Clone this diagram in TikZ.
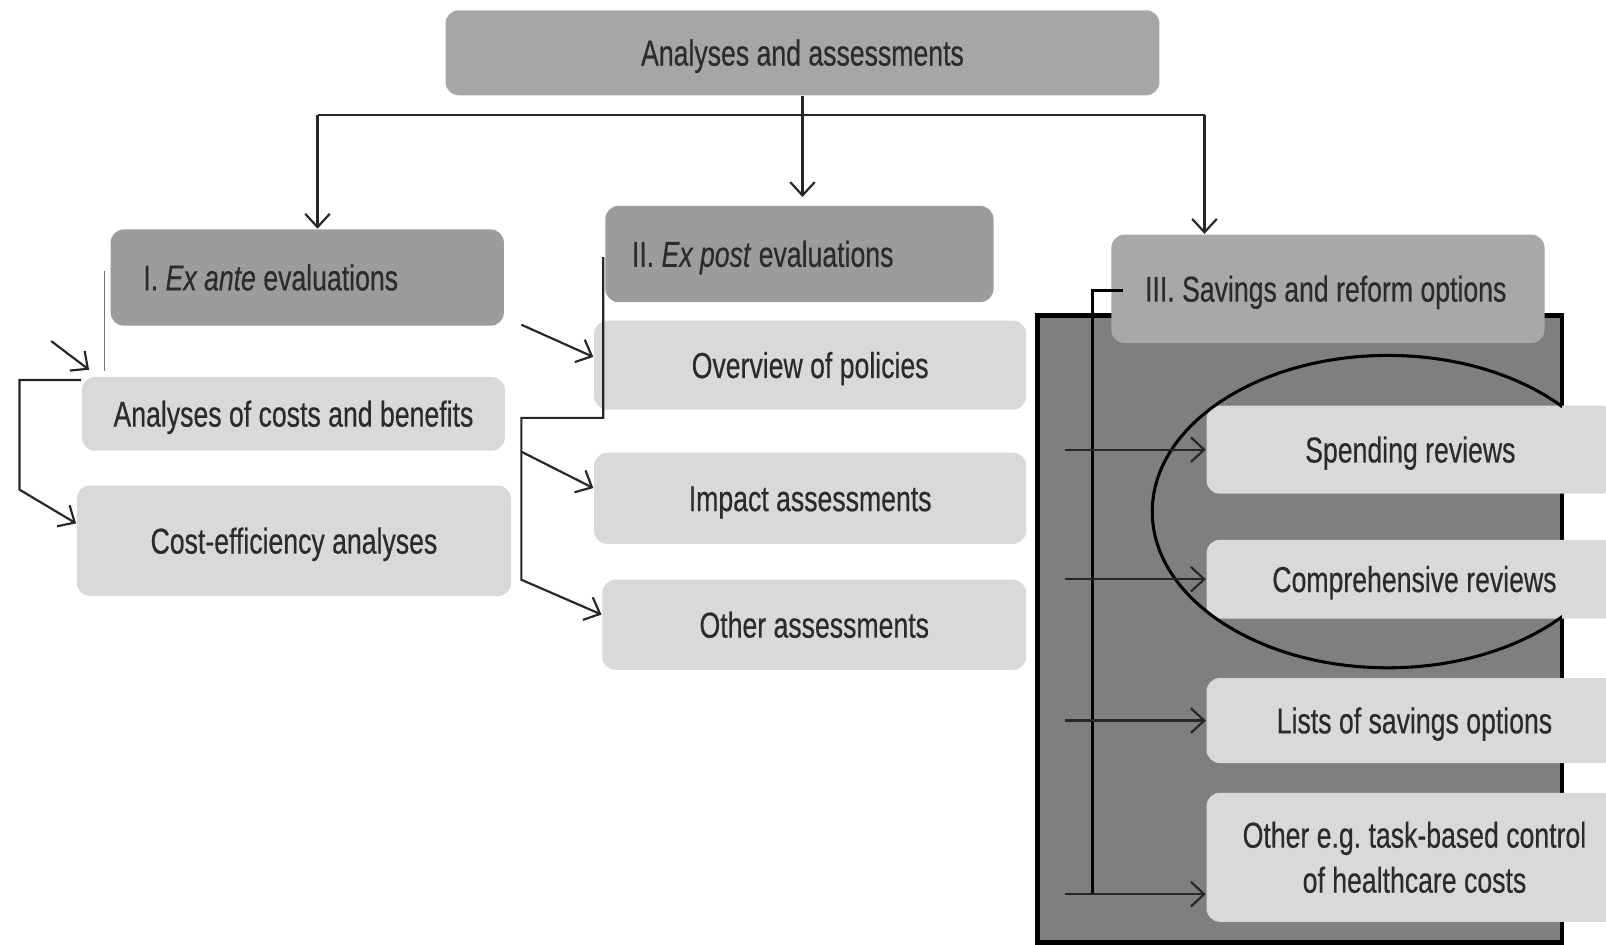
\documentclass[tikz,border=0pt]{standalone}
\usepackage{fontspec}
\setmainfont{Liberation Sans}[FakeStretch=0.74, FakeBold=0.4]
\usepackage{xcolor}
\usetikzlibrary{arrows.meta}

\definecolor{topgray}{HTML}{A6A6A6}
\definecolor{evalgray}{HTML}{9C9C9C}
\definecolor{optgray}{HTML}{A8A8A8}
\definecolor{itemgray}{HTML}{D9D9D9}
\definecolor{panelgray}{HTML}{7F7F7F}
\definecolor{inkgray}{HTML}{2B2B2B}

\begin{document}
\begin{tikzpicture}[x=0.1mm,y=-0.1mm,
    box/.style={rounded corners=1.3mm, text=inkgray, inner sep=0pt,
      font=\fontsize{10}{12.5}\selectfont},
    oneline/.style={text height=2.9mm, text depth=0.4mm},
    headbox/.style={box, oneline, align=flush left, minimum height=9.4mm,
      execute at begin node={\hspace*{#1}}},
    item/.style={box, fill=itemgray, align=center},
    arr/.style={-{Straight Barb[length=1.3mm,width=2.4mm]}, line width=0.6pt, draw=black!85},
    link/.style={line width=0.6pt, draw=black!85}]
  \useasboundingbox (0,0) rectangle (1568,922);

  % top level and the three groups
  \node[box, oneline, fill=topgray, minimum width=69.7mm, minimum height=8.3mm] (top) at (783.5,51.5) {Analyses and assessments};
  \node[headbox=3.2mm, fill=evalgray, text width=38.4mm] (exI) at (300,271) {I. \textit{Ex ante} evaluations};
  \node[headbox=2.6mm, fill=evalgray, text width=37.9mm] (exII) at (780.5,248) {II. \textit{Ex post} evaluations};

  % panel behind the savings options
  \fill[panelgray] (1013,308) rectangle (1525,920);
  \draw[line width=0.45mm] (1013,308) rectangle (1525,920);
  \node[headbox=3.3mm, fill=optgray, text width=42.3mm, minimum height=10.6mm] (sav) at (1296.5,282) {III. Savings and reform options};

  % items
  \node[item, oneline, minimum width=41.3mm, minimum height=7.2mm] (cba) at (286.5,404) {Analyses of costs and benefits};
  \node[item, oneline, minimum width=42.4mm, minimum height=10.8mm] (cea) at (287,528) {Cost-efficiency analyses};
  \node[item, oneline, minimum width=42.2mm, minimum height=8.7mm] (ovp) at (791,356.5) {Overview of policies};
  \node[item, oneline, minimum width=42.2mm, minimum height=8.9mm] (ima) at (791,486.5) {Impact assessments};
  \node[item, oneline, minimum width=41.4mm, minimum height=8.8mm] (oas) at (795,610) {Other assessments};
  \node[item, oneline, minimum width=39.8mm, minimum height=8.6mm] (spr) at (1377,439) {Spending reviews};
  \node[item, oneline, minimum width=40.6mm, minimum height=7.7mm] (cpr) at (1381,565.5) {Comprehensive reviews};
  \node[item, oneline, minimum width=40.6mm, minimum height=8.3mm] (lso) at (1381,703.5) {Lists of savings options};
  \node[item, minimum width=40.6mm, minimum height=12.6mm] (oth) at (1381,837) {Other e.g.\ task-based control\\of healthcare costs};

  \begin{scope}
    \clip (1013,308) rectangle (1525,920);
    \draw[line width=0.3mm] (1355,499.5) ellipse [x radius=23mm, y radius=15.25mm];
  \end{scope}

  % branching from the top
  \coordinate (brL) at (310,112);
  \coordinate (brR) at (1176,112);
  \draw[link] (brL) -- (brR);
  \draw[arr] (top.south) -- (top.south |- exII.north) [shorten >=0.8mm];
  \draw[arr] (brL) -- (brL |- exI.north);
  \draw[arr] (brR) -- (brR |- sav.north);

  % ex ante group
  \coordinate (aTop) at (19,371);
  \coordinate (aBot) at (19,478);
  \draw[draw=black!55, line width=0.5pt] (102,265) -- (102,362);
  \draw[arr] (50,333) -- (87,361);
  \draw[arr] (cba.west |- aTop) -- (aTop) -- (aBot) -- ([yshift=1.7mm]cea.west);

  % ex post group
  \coordinate (pA) at (589,251);
  \coordinate (pB) at (589,408);
  \coordinate (pC) at (509,408);
  \coordinate (pD) at (509,566);
  \draw[arr] (pA) -- (pB) -- (pC) -- (pD) -- ([yshift=1mm]oas.west);
  \draw[arr] (509,441) -- ([yshift=1mm]ima.west);
  \draw[arr] (509,317) -- ([yshift=0.8mm]ovp.west);

  % savings options group
  \coordinate (sTop) at (1067,284);
  \coordinate (rtail) at (1040,0);
  \draw[line width=0.3mm] ([xshift=1.2mm]sav.west |- sTop) -- (sTop) -- (sTop |- 0,873);
  \foreach \b in {spr,cpr,lso}
    \draw[arr] (rtail |- \b.west) -- (\b.west);
  \draw[arr] (rtail |- 0,873) -- (oth.west |- 0,873);
\end{tikzpicture}
\end{document}
